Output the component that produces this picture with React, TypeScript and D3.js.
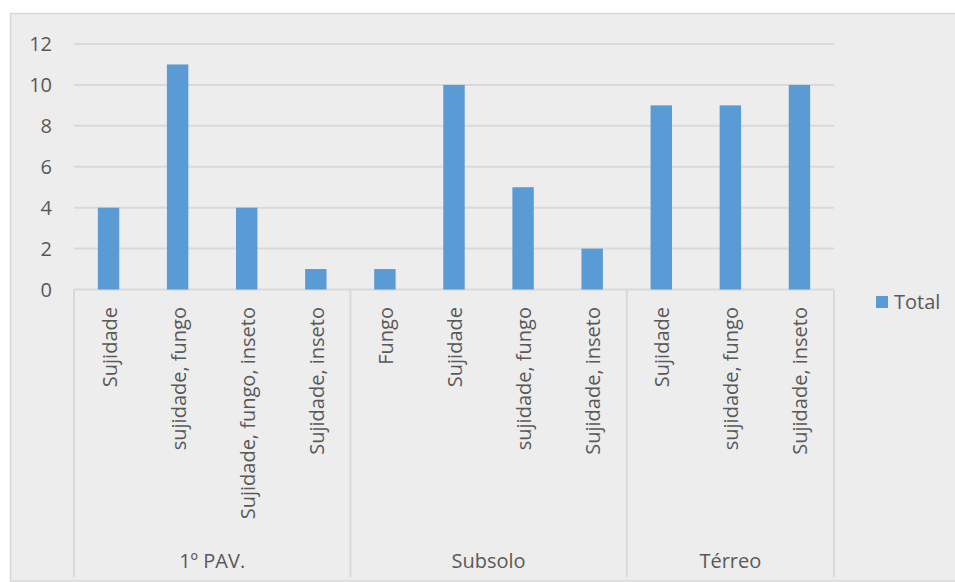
import React, { useEffect, useRef } from "react";
import * as d3 from "d3";

// grupos (pavimentos) e as categorias de cada um
const groups = ["1º PAV.", "Subsolo", "Térreo"];
const groupOf = [0, 0, 0, 0, 1, 1, 1, 1, 2, 2, 2];
const categories = [
  "Sujidade",
  "sujidade, fungo",
  "Sujidade, fungo, inseto",
  "Sujidade, inseto",
  "Fungo",
  "Sujidade",
  "sujidade, fungo",
  "Sujidade, inseto",
  "Sujidade",
  "sujidade, fungo",
  "Sujidade, inseto",
];
const totals = [4, 11, 4, 1, 1, 10, 5, 2, 9, 9, 10];
const yTicks = [0, 2, 4, 6, 8, 10, 12];
const seriesName = "Total";

const W = 955;
const H = 582;
const FONT = "'Open Sans', 'DejaVu Sans', sans-serif";
const TEXT = "#595959";
const GRID = "#D9D9D9";
const BAR = "#5B9BD5";

export default function App() {
  const ref = useRef<SVGSVGElement | null>(null);

  useEffect(() => {
    const svg = d3.select(ref.current);
    svg.selectAll("*").remove();

    // chart area background + border
    svg.append("rect")
      .attr("x", 10.5)
      .attr("y", 13.5)
      .attr("width", 980)
      .attr("height", 567.5)
      .attr("fill", "#EDEDED")
      .attr("stroke", GRID)
      .attr("stroke-width", 1.5);

    const left = 74, right = 834, bottom = 289.5, top = 44;

    const x = d3.scaleBand<number>()
      .domain(d3.range(categories.length))
      .range([left, right])
      .padding(0);

    const y = d3.scaleLinear().domain([0, 12]).range([bottom, top]);

    // gridlines
    svg.append("g")
      .selectAll("line")
      .data(yTicks)
      .enter().append("line")
      .attr("x1", left)
      .attr("x2", right)
      .attr("y1", d => y(d))
      .attr("y2", d => y(d))
      .attr("stroke", GRID)
      .attr("stroke-width", 2);

    // y tick labels
    svg.append("g")
      .selectAll("text")
      .data(yTicks)
      .enter().append("text")
      .attr("x", 52)
      .attr("y", d => y(d))
      .attr("dy", "0.35em")
      .attr("text-anchor", "end")
      .attr("font-family", FONT)
      .attr("font-size", 20)
      .attr("fill", TEXT)
      .text(d => d);

    // bars
    const bw = x.bandwidth() * 0.31;
    svg.append("g")
      .selectAll("rect")
      .data(totals)
      .enter().append("rect")
      .attr("x", (d, i) => x(i)! + (x.bandwidth() - bw) / 2)
      .attr("y", d => y(d))
      .attr("width", bw)
      .attr("height", d => y(0) - y(d))
      .attr("fill", BAR);

    // category labels, rotated
    svg.append("g")
      .selectAll("text")
      .data(categories)
      .enter().append("text")
      .attr("transform", (d, i) => `translate(${x(i)! + x.bandwidth() / 2 + 1},307) rotate(-90)`)
      .attr("dy", "0.35em")
      .attr("text-anchor", "end")
      .attr("font-family", FONT)
      .attr("font-size", 20)
      .attr("fill", TEXT)
      .text(d => d);

    // group separators and labels
    const bounds = groups.map((g, gi) => {
      const idx = groupOf.map((v, i) => (v === gi ? i : -1)).filter(i => i >= 0);
      return { name: g, x0: x(idx[0])!, x1: x(idx[idx.length - 1])! + x.bandwidth() };
    });
    const edges = [bounds[0].x0, ...bounds.map(b => b.x1)];

    svg.append("g")
      .selectAll("line")
      .data(edges)
      .enter().append("line")
      .attr("x1", d => d)
      .attr("x2", d => d)
      .attr("y1", bottom)
      .attr("y2", 577)
      .attr("stroke", GRID)
      .attr("stroke-width", 2);

    svg.append("g")
      .selectAll("text")
      .data(bounds)
      .enter().append("text")
      .attr("x", d => (d.x0 + d.x1) / 2)
      .attr("y", 568)
      .attr("text-anchor", "middle")
      .attr("font-family", FONT)
      .attr("font-size", 20)
      .attr("fill", TEXT)
      .text(d => d.name);

    // legend
    const lg = svg.append("g").attr("transform", "translate(876,296)");
    lg.append("rect").attr("width", 12).attr("height", 12).attr("fill", BAR);
    lg.append("text")
      .attr("x", 18)
      .attr("y", 6)
      .attr("dy", "0.35em")
      .attr("font-family", FONT)
      .attr("font-size", 20)
      .attr("fill", TEXT)
      .text(seriesName);
  }, []);

  return (
    <div style={{ position: "fixed", left: 0, top: 0 }}>
      <svg ref={ref} width={W} height={H} style={{ display: "block", background: "#fff" }} />
    </div>
  );
}
